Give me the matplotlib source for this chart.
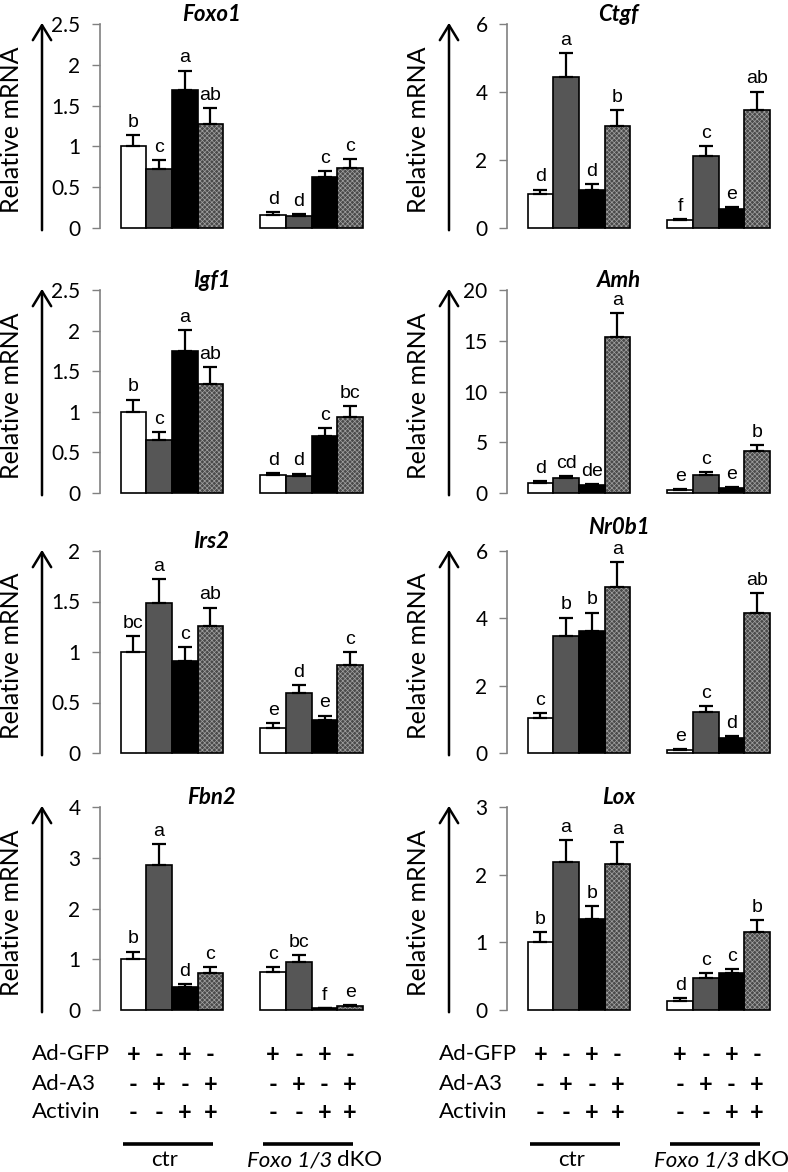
import numpy as np
import matplotlib
matplotlib.use('Agg')
import matplotlib.pyplot as plt
from matplotlib.patches import FancyArrowPatch
from matplotlib.transforms import blended_transform_factory

# data
genes = ['Foxo1', 'Ctgf', 'Igf1', 'Amh', 'Irs2', 'Nr0b1', 'Fbn2', 'Lox']
y_max = [2.5, 6, 2.5, 20, 2, 6, 4, 3]
y_step = [0.5, 2, 0.5, 5, 0.5, 2, 1, 1]

foxo1_mean = [1.0, 0.72, 1.69, 1.28, 0.16, 0.15, 0.62, 0.73]
foxo1_err = [0.14, 0.11, 0.24, 0.19, 0.04, 0.02, 0.08, 0.11]
foxo1_sig = ['b', 'c', 'a', 'ab', 'd', 'd', 'c', 'c']

ctgf_mean = [1.01, 4.45, 1.11, 3.01, 0.23, 2.11, 0.55, 3.47]
ctgf_err = [0.12, 0.69, 0.17, 0.46, 0.03, 0.31, 0.07, 0.54]
ctgf_sig = ['d', 'a', 'd', 'b', 'f', 'c', 'e', 'ab']

igf1_mean = [1.0, 0.65, 1.75, 1.34, 0.22, 0.21, 0.70, 0.93]
igf1_err = [0.15, 0.10, 0.26, 0.21, 0.03, 0.03, 0.10, 0.14]
igf1_sig = ['b', 'c', 'a', 'ab', 'd', 'd', 'c', 'bc']

amh_mean = [0.98, 1.44, 0.79, 15.34, 0.33, 1.8, 0.46, 4.13]
amh_err = [0.17, 0.2, 0.1, 2.36, 0.06, 0.3, 0.1, 0.57]
amh_sig = ['d', 'cd', 'de', 'a', 'e', 'c', 'e', 'b']

irs2_mean = [1.0, 1.49, 0.91, 1.26, 0.25, 0.59, 0.33, 0.87]
irs2_err = [0.16, 0.23, 0.14, 0.18, 0.05, 0.08, 0.04, 0.13]
irs2_sig = ['bc', 'a', 'c', 'ab', 'e', 'd', 'e', 'c']

nr0b1_mean = [1.03, 3.48, 3.63, 4.93, 0.1, 1.23, 0.46, 4.17]
nr0b1_err = [0.15, 0.54, 0.54, 0.73, 0.02, 0.16, 0.05, 0.58]
nr0b1_sig = ['c', 'b', 'b', 'a', 'e', 'c', 'd', 'ab']

fbn2_mean = [1.0, 2.85, 0.46, 0.72, 0.74, 0.95, 0.03, 0.08]
fbn2_err = [0.15, 0.42, 0.05, 0.12, 0.1, 0.14, 0.01, 0.02]
fbn2_sig = ['b', 'a', 'd', 'c', 'c', 'bc', 'f', 'e']

lox_mean = [1.0, 2.18, 1.34, 2.16, 0.14, 0.47, 0.55, 1.15]
lox_err = [0.15, 0.33, 0.2, 0.32, 0.03, 0.08, 0.06, 0.18]
lox_sig = ['b', 'a', 'b', 'a', 'd', 'c', 'c', 'b']

means = [foxo1_mean, ctgf_mean, igf1_mean, amh_mean, irs2_mean, nr0b1_mean, fbn2_mean, lox_mean]
errs = [foxo1_err, ctgf_err, igf1_err, amh_err, irs2_err, nr0b1_err, fbn2_err, lox_err]
sigs = [foxo1_sig, ctgf_sig, igf1_sig, amh_sig, irs2_sig, nr0b1_sig, fbn2_sig, lox_sig]

row_labels = ['Ad-GFP', 'Ad-A3', 'Activin']
ad_gfp = ['+', '-', '+', '-'] * 2
ad_a3 = ['-', '+', '-', '+'] * 2
activin = ['-', '-', '+', '+'] * 2
group_names = ['ctr', 'Foxo 1/3']

plt.rcParams['font.family'] = ['Lato', 'DejaVu Sans']
plt.rcParams['hatch.linewidth'] = 0.5

W, H = 788, 1172
fig = plt.figure(figsize=(W / 100, H / 100), dpi=100)

xpos = np.array([0, 1, 2, 3, 5.45, 6.45, 7.45, 8.45])
colors = ['white', '#565656', 'black', '#4a4a4a']
row_top = [24, 290, 551, 807]
row_zero = [228, 493, 753, 1010]
col_left = [100, 507]
ax_w = 272

axes = []
for i, g in enumerate(genes):
    r, c = i // 2, i % 2
    x0 = col_left[c]
    ax = fig.add_axes([x0 / W, 1 - row_zero[r] / H, ax_w / W, (row_zero[r] - row_top[r]) / H])
    axes.append(ax)
    m = np.array(means[i])
    e = np.array(errs[i])
    for k in range(8):
        fc = colors[k % 4]
        if k % 4 == 3:
            ax.bar(xpos[k], m[k], width=1.0, color=fc, edgecolor='#a0a0a0', hatch='xxxxxxx',
                   linewidth=0, clip_on=False, zorder=2)
            ax.bar(xpos[k], m[k], width=1.0, fill=False, edgecolor='black', linewidth=1.2,
                   clip_on=False, zorder=3)
        else:
            ax.bar(xpos[k], m[k], width=1.0, color=fc, edgecolor='black', linewidth=1.2,
                   clip_on=False, zorder=3)
    ax.errorbar(xpos, m, yerr=[np.zeros(8), e], fmt='none', ecolor='black', elinewidth=1.6,
                capsize=5, capthick=1.6, zorder=4, clip_on=False)
    for k in range(8):
        ax.annotate(sigs[i][k], (xpos[k], m[k] + e[k]), xytext=(0, 3), textcoords='offset points',
                    ha='center', va='bottom', fontsize=14, family='Liberation Sans')
    ax.set_xlim(-1.3, 9.3)
    ax.set_ylim(0, y_max[i])
    ax.set_yticks(np.arange(0, y_max[i] + y_step[i] / 2, y_step[i]))
    ax.yaxis.set_major_formatter(matplotlib.ticker.FormatStrFormatter('%g'))
    ax.tick_params(axis='y', direction='out', length=6, width=1, color='#808080',
                   labelsize=15, pad=8)
    ax.set_xticks([])
    for s in ['top', 'right', 'bottom']:
        ax.spines[s].set_visible(False)
    ax.spines['left'].set_color('#808080')
    ax.spines['left'].set_linewidth(1.2)
    ax.patch.set_visible(False)
    title_off = 12 if g == 'Nr0b1' else 2
    ax.annotate(g, (0.41, 1.0), xycoords='axes fraction', xytext=(0, title_off),
                textcoords='offset points', ha='center', va='baseline', fontsize=16,
                fontweight='bold', fontstyle='italic')

    # arrow + ylabel
    ax_x = x0 - 58
    arr = FancyArrowPatch((ax_x / W, 1 - (row_zero[r] + 5) / H), (ax_x / W, 1 - (row_top[r] - 4) / H),
                          transform=fig.transFigure, arrowstyle='->,head_length=0.9,head_width=0.55',
                          mutation_scale=12, lw=1.8, color='black')
    fig.add_artist(arr)
    fig.text((x0 - 88) / W, 1 - ((row_top[r] + row_zero[r]) / 2 + 4) / H, 'Relative mRNA',
             rotation=90, ha='center', va='center', fontsize=18)

# treatment table under the bottom panels
row_y = [1054, 1084, 1112]
signs = [ad_gfp, ad_a3, activin]
for ax, x0 in zip(axes[-2:], col_left):
    tr = blended_transform_factory(ax.transData, fig.transFigure)
    for j, lab in enumerate(row_labels):
        fig.text((x0 - 68) / W, 1 - row_y[j] / H, lab, ha='left', va='center', fontsize=16)
        for k in range(8):
            ax.text(xpos[k], 1 - row_y[j] / H, signs[j][k], transform=tr, ha='center', va='center',
                    fontsize=17, fontweight='bold', clip_on=False)
    for g0 in [0, 4]:
        ax.plot([xpos[g0] - 0.4, xpos[g0 + 3] + 0.1], [1 - 1144 / H] * 2, transform=tr,
                color='black', lw=2.6, clip_on=False, solid_capstyle='butt')
    ctr_x = (xpos[0] + xpos[3]) / 2 - 0.3
    ax.text(ctr_x, 1 - 1160 / H, group_names[0], transform=tr, ha='center', va='center', fontsize=16)
    dko_x = (xpos[4] + xpos[7]) / 2 + 1.0
    ax.text(dko_x, 1 - 1160 / H, group_names[1] + ' ', transform=tr, ha='right', va='center',
            fontsize=16, fontstyle='italic')
    ax.text(dko_x, 1 - 1160 / H, 'dKO', transform=tr, ha='left', va='center', fontsize=16)

fig.savefig('out.png', dpi=100)
